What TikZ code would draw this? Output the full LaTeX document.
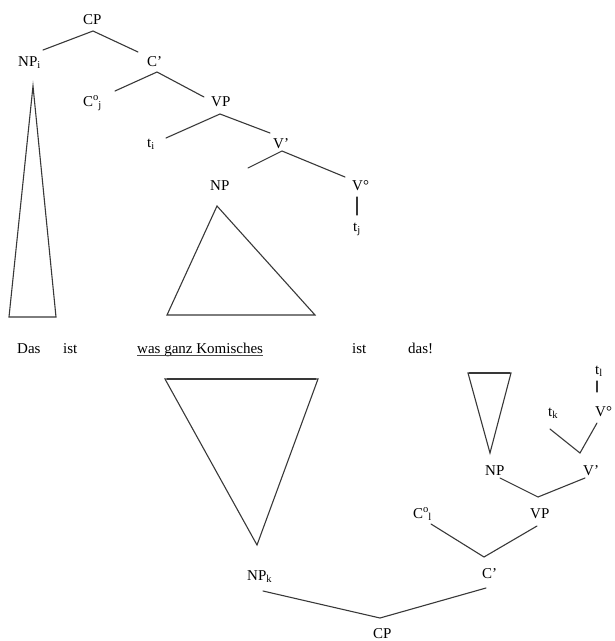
\documentclass[tikz,border=0pt]{standalone}
\usepackage{fontspec}
\setmainfont{Liberation Serif}
\usetikzlibrary{calc}
\begin{document}
\begin{tikzpicture}[x=1pt,y=-1pt,
  lbl/.style={anchor=base west,inner sep=0pt,font=\fontsize{15}{18}\selectfont,text=black},
  br/.style={line width=1.1pt,draw=black!78,line cap=round},
  tri/.style={line width=1.1pt,draw=black!78,line join=miter}]
\useasboundingbox (0,0) rectangle (615,641);

% ---------- upper tree ----------
\node[lbl] (cpA) at (83,24) {CP};
\node[lbl] (npi) at (18,66) {NP\textsubscript{i}};
\node[lbl] (cbA) at (147,66) {C'};
\node[lbl] (coj) at (83,106) {C\textsuperscript{o}\kern-0.5pt\textsubscript{j}};
\node[lbl] (vpA) at (211,106) {VP};
\node[lbl] (ti)  at (147,147) {t\textsubscript{i}};
\node[lbl] (vbA) at (273,148) {V'};
\node[lbl] (npA) at (210,190) {NP};
\node[lbl] (voA) at (352,190) {V°};
\node[lbl] (tj)  at (353,231) {t\textsubscript{j}};

\coordinate (cpA-b) at (93,31);
\coordinate (npi-t) at (43,50);
\coordinate (cbA-t) at (138,52);
\coordinate (cbA-b) at (157,72);
\coordinate (coj-t) at (115,91);
\coordinate (vpA-t) at (204,97);
\coordinate (vpA-b) at (220,114);
\coordinate (ti-t)  at (166,138);
\coordinate (vbA-t) at (270,133);
\coordinate (vbA-b) at (282,151);
\coordinate (npA-t) at (248,168);
\coordinate (voA-t) at (345,177);
\coordinate (voA-b) at (357,197);
\coordinate (tj-t)  at (357,215);

\draw[br] (npi-t) -- (cpA-b) -- (cbA-t);
\draw[br] (coj-t) -- (cbA-b) -- (vpA-t);
\draw[br] (ti-t) -- (vpA-b) -- (vbA-t);
\draw[br] (npA-t) -- (vbA-b) -- (voA-t);
\draw[br] (voA-b) -- (tj-t);

\draw[tri] (33,86) -- (9,317) -- (56,317) -- cycle;
\draw[tri] (217,206) -- (167,315) -- (315,315) -- cycle;

% ---------- sentence ----------
\node[lbl] (w1) at (17,353) {Das};
\node[lbl] (w2) at (63,353) {ist};
\node[lbl] (w3) at (137,353) {was ganz Komisches};
\node[lbl] (w4) at (352,353) {ist};
\node[lbl] (w5) at (408,353) {das!};
\draw[line width=0.8pt,draw=black!70] ($(w3.base west)+(0,2)$) -- ($(w3.base east)+(0,2)$);

% ---------- lower tree ----------
\draw[tri] (257,545) -- (165,379) -- (318,379) -- cycle;
\draw[line width=1.8pt,draw=black!78] (167,379) -- (316,379);
\draw[tri] (490,453) -- (468,373) -- (511,373) -- cycle;
\draw[line width=1.6pt,draw=black!78] (469,373) -- (510,373);

\node[lbl] (npk) at (247,580) {NP\textsubscript{k}};
\node[lbl] (cpB) at (373,638) {CP};
\node[lbl] (cbB) at (482,578) {C'};
\node[lbl] (col) at (413,518) {C\textsuperscript{o}\kern-0.5pt\textsubscript{l}};
\node[lbl] (vpB) at (530,518) {VP};
\node[lbl] (npB) at (485,475) {NP};
\node[lbl] (vbB) at (583,475) {V'};
\node[lbl] (tk)  at (548,416) {t\textsubscript{k}};
\node[lbl] (voB) at (595,416) {V°};
\node[lbl] (tl)  at (595,374) {t\textsubscript{l}};

\coordinate (npk-b) at (263,591);
\coordinate (cpB-t) at (380,618);
\coordinate (cbB-b) at (486,588);
\coordinate (cbB-t) at (484,557);
\coordinate (col-b) at (431,524);
\coordinate (vpB-b) at (537,526);
\coordinate (vpB-t) at (538,497);
\coordinate (npB-b) at (500,478);
\coordinate (vbB-b) at (585,478);
\coordinate (vbB-t) at (580,453);
\coordinate (tk-b)  at (550,429);
\coordinate (voB-b) at (597,423);
\coordinate (voB-t) at (597,392);
\coordinate (tl-b)  at (597,381);

\draw[br] (npk-b) -- (cpB-t) -- (cbB-b);
\draw[br] (col-b) -- (cbB-t) -- (vpB-b);
\draw[br] (npB-b) -- (vpB-t) -- (vbB-b);
\draw[br] (tk-b) -- (vbB-t) -- (voB-b);
\draw[br] (tl-b) -- (voB-t);
\end{tikzpicture}
\end{document}
